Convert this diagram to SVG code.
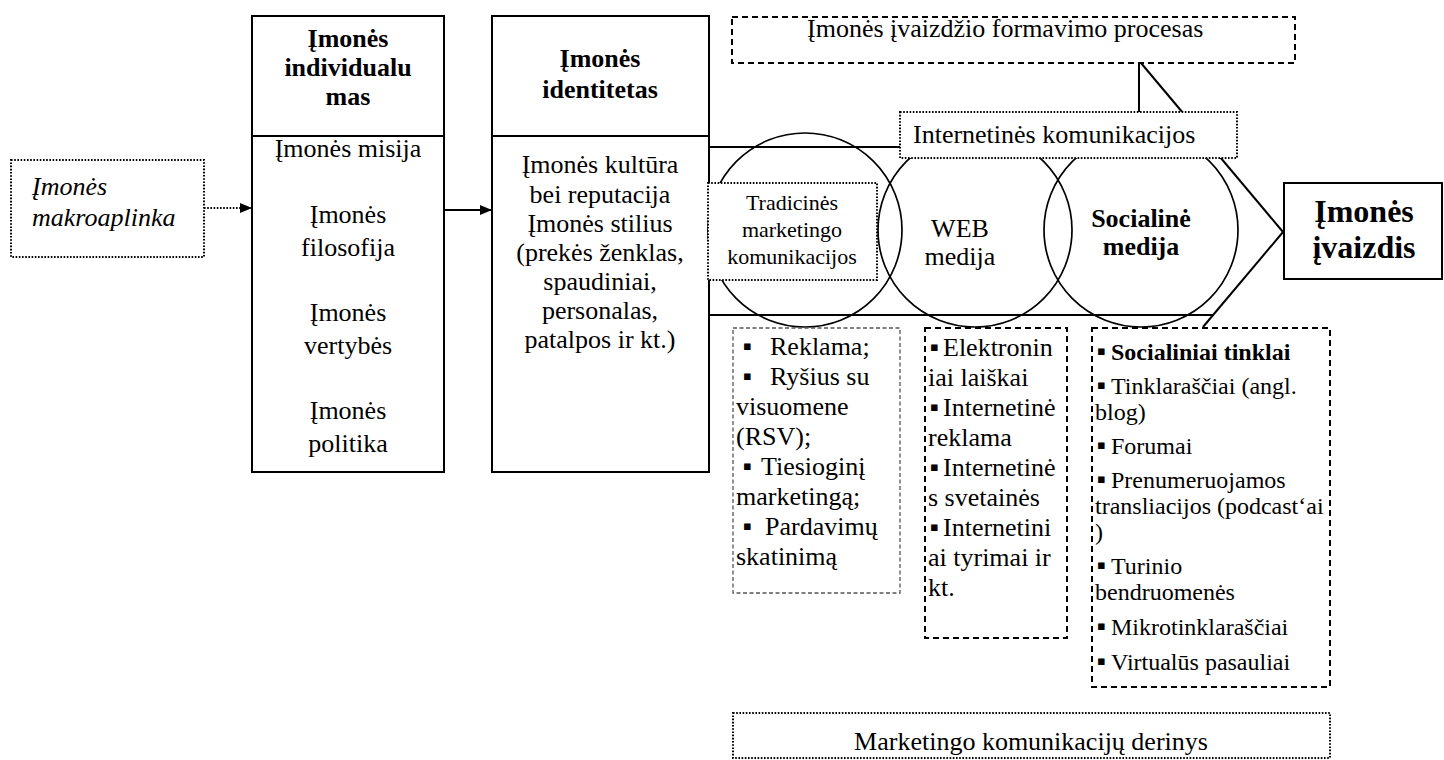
<svg xmlns="http://www.w3.org/2000/svg" width="1444" height="760" viewBox="0 0 1444 760">
  <style>
    text { font-family: "Liberation Serif", "Times New Roman", serif; font-size: 26px; fill: #000; }
    .b { font-weight: bold; }
    .i { font-style: italic; }
    .c { text-anchor: middle; }
    .s22 { font-size: 22px; }
    .s24 { font-size: 24px; }
    .s32 { font-size: 32px; }
    .blt { font-family: "DejaVu Sans", sans-serif; font-size: 13px; font-weight: normal; }
    .solid { fill: #fff; stroke: #000; stroke-width: 2; }
    .line { fill: none; stroke: #000; stroke-width: 2; }
    .circ { fill: none; stroke: #000; stroke-width: 1.7; }
    .dot { fill: #fff; stroke: #000; stroke-width: 2; stroke-dasharray: 1.6 1.6; }
    .dash { fill: #fff; stroke: #000; stroke-width: 2; stroke-dasharray: 6 4; }
    .dashg { fill: #fff; stroke: #555; stroke-width: 1.3; stroke-dasharray: 4 2.5; }
  </style>
  <defs>
    <marker id="arr" viewBox="0 0 12 10" refX="12" refY="5" markerWidth="12" markerHeight="10" markerUnits="userSpaceOnUse" orient="auto">
      <path d="M0,0 L12,5 L0,10 Z" fill="#000"/>
    </marker>
  </defs>
  <rect width="1444" height="760" fill="#fff"/>

  <!-- connectors and band outline -->
  <g id="connectors">
    <line x1="204" y1="208" x2="252" y2="208" class="line" stroke-dasharray="1.6 1.6" marker-end="url(#arr)"/>
    <line x1="444" y1="210" x2="492" y2="210" class="line" marker-end="url(#arr)"/>
    <line x1="709" y1="147" x2="1212" y2="147" class="line"/>
    <line x1="709" y1="315" x2="1213" y2="315" class="line"/>
    <line x1="1139" y1="63" x2="1139" y2="112" class="line"/>
    <line x1="1141" y1="63" x2="1283" y2="232" class="line"/>
    <line x1="1283" y1="232" x2="1203" y2="327" class="line"/>
  </g>

  <!-- external environment -->
  <g id="makroaplinka">
    <rect x="11" y="160" width="193" height="97" class="dot"/>
    <text x="32" y="195" class="i">Įmonės</text>
    <text x="32" y="226" class="i">makroaplinka</text>
  </g>

  <!-- individuality -->
  <g id="individualumas">
    <rect x="252" y="16" width="192" height="456" class="solid"/>
    <line x1="252" y1="136" x2="444" y2="136" class="line"/>
    <text x="348" y="47" class="b c">Įmonės</text>
    <text x="348" y="76" class="b c">individualu</text>
    <text x="348" y="105" class="b c">mas</text>
    <text x="348" y="157" class="c">Įmonės misija</text>
    <text x="348" y="223" class="c">Įmonės</text>
    <text x="348" y="256" class="c">filosofija</text>
    <text x="348" y="321" class="c">Įmonės</text>
    <text x="348" y="354" class="c">vertybės</text>
    <text x="348" y="419" class="c">Įmonės</text>
    <text x="348" y="452" class="c">politika</text>
  </g>

  <!-- identity -->
  <g id="identitetas">
    <rect x="492" y="16" width="217" height="456" class="solid"/>
    <line x1="492" y1="136" x2="709" y2="136" class="line"/>
    <text x="600" y="67" class="b c">Įmonės</text>
    <text x="600" y="98" class="b c">identitetas</text>
    <text x="600" y="173" class="c">Įmonės kultūra</text>
    <text x="600" y="203" class="c">bei reputacija</text>
    <text x="600" y="232" class="c">Įmonės stilius</text>
    <text x="600" y="261" class="c">(prekės ženklas,</text>
    <text x="600" y="290" class="c">spaudiniai,</text>
    <text x="600" y="319" class="c">personalas,</text>
    <text x="600" y="348" class="c">patalpos ir kt.)</text>
  </g>

  <!-- media circles -->
  <g id="circles">
    <circle cx="805" cy="230" r="97" class="circ"/>
    <circle cx="975" cy="230" r="97" class="circ"/>
    <circle cx="1141" cy="230" r="97" class="circ"/>
  </g>

  <g id="tradicines">
    <rect x="708" y="183" width="169" height="97" class="dot"/>
    <text x="792" y="210" class="c s22">Tradicinės</text>
    <text x="792" y="237" class="c s22">marketingo</text>
    <text x="792" y="264" class="c s22">komunikacijos</text>
  </g>

  <g id="web">
    <text x="960" y="237" class="c">WEB</text>
    <text x="960" y="265" class="c">medija</text>
  </g>

  <g id="socialine">
    <text x="1141" y="227" class="b c">Socialinė</text>
    <text x="1141" y="255" class="b c">medija</text>
  </g>

  <!-- process header -->
  <g id="procesas">
    <rect x="732" y="17" width="563" height="46" class="dash"/>
    <text x="807" y="37">Įmonės įvaizdžio formavimo procesas</text>
  </g>

  <g id="internetines">
    <rect x="900" y="112" width="337" height="46" class="dot"/>
    <text x="913" y="143">Internetinės komunikacijos</text>
  </g>

  <!-- result -->
  <g id="ivaizdis">
    <rect x="1284" y="183" width="158" height="96" class="solid"/>
    <text x="1364" y="222" class="b c s32">Įmonės</text>
    <text x="1364" y="258" class="b c s32">įvaizdis</text>
  </g>

  <!-- tool lists -->
  <g id="tradiciniu-sarasas">
    <rect x="733" y="328" width="167" height="265" class="dashg"/>
    <text x="743" y="355"><tspan class="blt" dy="-5">▪</tspan><tspan x="770" dy="5">Reklama;</tspan></text>
    <text x="743" y="385"><tspan class="blt" dy="-5">▪</tspan><tspan x="770" dy="5">Ryšius su</tspan></text>
    <text x="736" y="415">visuomene</text>
    <text x="736" y="445">(RSV);</text>
    <text x="743" y="475"><tspan class="blt" dy="-5">▪</tspan><tspan x="761" dy="5">Tiesioginį</tspan></text>
    <text x="736" y="505">marketingą;</text>
    <text x="743" y="535"><tspan class="blt" dy="-5">▪</tspan><tspan x="765" dy="5">Pardavimų</tspan></text>
    <text x="736" y="565">skatinimą</text>
  </g>

  <g id="web-sarasas">
    <rect x="925" y="328" width="142" height="310" class="dash"/>
    <text x="930" y="356"><tspan class="blt" dy="-5">▪</tspan><tspan x="943" dy="5">Elektronin</tspan></text>
    <text x="928" y="386">iai laiškai</text>
    <text x="930" y="416"><tspan class="blt" dy="-5">▪</tspan><tspan x="943" dy="5">Internetinė</tspan></text>
    <text x="928" y="446">reklama</text>
    <text x="930" y="476"><tspan class="blt" dy="-5">▪</tspan><tspan x="943" dy="5">Internetinė</tspan></text>
    <text x="928" y="506">s svetainės</text>
    <text x="930" y="536"><tspan class="blt" dy="-5">▪</tspan><tspan x="943" dy="5">Internetini</tspan></text>
    <text x="928" y="566">ai tyrimai ir</text>
    <text x="928" y="596">kt.</text>
  </g>

  <g id="socialines-sarasas">
    <rect x="1092" y="328" width="238" height="359" class="dash"/>
    <text x="1097" y="360" class="s24"><tspan class="blt" dy="-5">▪</tspan><tspan x="1111" dy="5" class="b">Socialiniai tinklai</tspan></text>
    <text x="1097" y="394" class="s24"><tspan class="blt" dy="-5">▪</tspan><tspan x="1111" dy="5">Tinklaraščiai (angl.</tspan></text>
    <text x="1095" y="420" class="s24">blog)</text>
    <text x="1097" y="454" class="s24"><tspan class="blt" dy="-5">▪</tspan><tspan x="1111" dy="5">Forumai</tspan></text>
    <text x="1097" y="488" class="s24"><tspan class="blt" dy="-5">▪</tspan><tspan x="1111" dy="5">Prenumeruojamos</tspan></text>
    <text x="1095" y="514" class="s24">transliacijos (podcast‘ai</text>
    <text x="1095" y="540" class="s24">)</text>
    <text x="1097" y="574" class="s24"><tspan class="blt" dy="-5">▪</tspan><tspan x="1111" dy="5">Turinio</tspan></text>
    <text x="1095" y="600" class="s24">bendruomenės</text>
    <text x="1097" y="635" class="s24"><tspan class="blt" dy="-5">▪</tspan><tspan x="1111" dy="5">Mikrotinklaraščiai</tspan></text>
    <text x="1097" y="670" class="s24"><tspan class="blt" dy="-5">▪</tspan><tspan x="1111" dy="5">Virtualūs pasauliai</tspan></text>
  </g>

  <!-- communication mix -->
  <g id="derinys">
    <rect x="733" y="713" width="597" height="45" class="dot"/>
    <text x="1031" y="750" class="c" font-size="31.5">Marketingo komunikacijų derinys</text>
  </g>
</svg>
